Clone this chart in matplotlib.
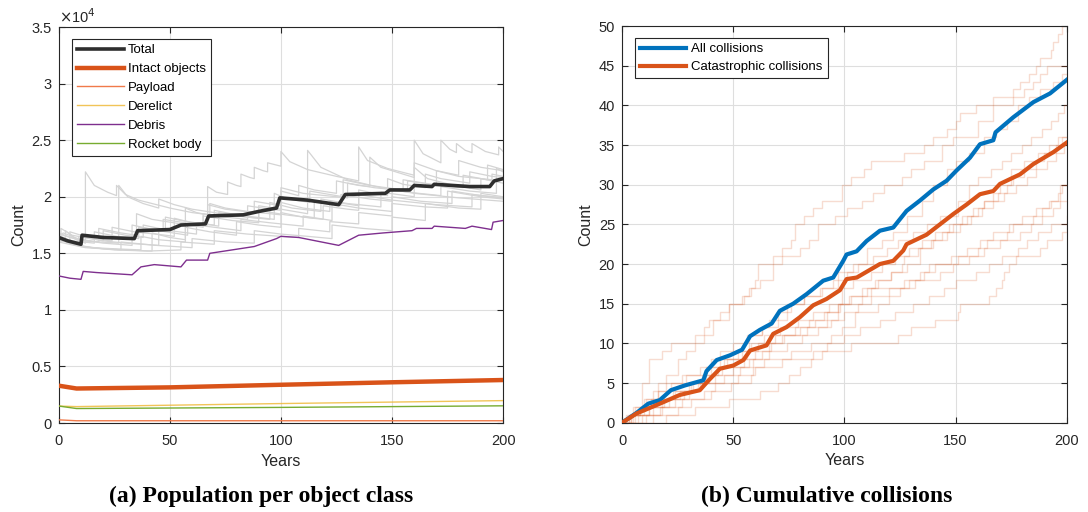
import matplotlib
matplotlib.use("Agg")
import matplotlib.pyplot as plt
import numpy as np

plt.rcParams['font.family'] = ['Liberation Sans', 'DejaVu Sans']

# ---------------- (a) population per object class (values in thousands) ----------------
years_total = [0, 4, 10, 10.5, 20, 34, 35.5, 50, 55, 66, 67.5, 83, 90, 98, 99.5, 112, 126, 129,
               147, 149, 158, 160, 168, 169, 185, 194, 196, 200]
total = [16.4, 16.1, 15.8, 16.6, 16.4, 16.3, 17.0, 17.1, 17.5, 17.6, 18.3, 18.4, 18.7, 19.0, 19.9,
         19.7, 19.3, 20.2, 20.3, 20.6, 20.6, 21.0, 20.9, 21.1, 20.9, 20.9, 21.4, 21.6]

years_debris = [0, 5, 10, 11, 17, 33, 37, 43, 55, 57.5, 67, 68, 78, 88, 98, 100, 108, 126, 135,
                146, 159, 161, 168, 169, 183, 186, 194.8, 195.5, 200]
debris = [13.0, 12.8, 12.7, 13.4, 13.3, 13.1, 13.8, 14.0, 13.8, 14.4, 14.4, 15.0, 15.3, 15.6, 16.3,
          16.5, 16.4, 15.7, 16.6, 16.8, 17.0, 17.2, 17.2, 17.4, 17.2, 17.4, 17.1, 17.75, 17.9]

years_intact = [0, 8, 50, 100, 150, 200]
intact = [3.3, 3.05, 3.15, 3.38, 3.6, 3.8]
years_derelict = [0, 8, 100, 200]
derelict = [1.5, 1.45, 1.72, 1.98]
years_rocket = [0, 8, 100, 200]
rocket = [1.5, 1.28, 1.38, 1.52]
years_payload = [0, 8, 200]
payload = [0.28, 0.2, 0.2]

# individual Monte Carlo runs of the total population: (year, thousands) breakpoints
run_g1 = [(0,16.6),(3,16.3),(3,17.0),(8,16.2),(12,15.9),(12,22.2),(16,21.0),(22,20.4),(26,20.1),(26,21.0),(30,20.2),(36,19.7),(42,19.4),(50,19.0),(60,18.6),(68,18.4),(68,19.4),(75,19.0),(85,18.7),(100,18.4),(100,19.5),(110,19.0),(122,18.7),(122,19.6),(135,19.2),(135,20.2),(150,19.7),(170,19.3),(186,19.1),(186,20.2),(200,19.9)]
run_g2 = [(0,16.3),(6,15.8),(15,15.5),(25,15.4),(37,15.3),(37,16.5),(45,16.2),(57,16.0),(57,19.0),(62,18.6),(67,18.4),(67,20.9),(71,20.4),(76,20.2),(76,21.3),(80,21.0),(82,20.9),(82,22.0),(86,21.7),(88,21.6),(88,22.6),(92,22.3),(94,22.2),(94,23.0),(98,22.8),(100,22.7),(100,24.0),(104,23.1),(112,22.4),(125,21.8),(135,21.4),(135,24.4),(139,23.2),(148,22.5),(160,21.9),(160,25.0),(164,23.8),(172,23.0),(172,25.0),(176,24.2),(179,23.9),(179,24.7),(183,24.1),(186,23.9),(186,24.7),(192,24.0),(198,23.7),(198,24.4),(200,24.0)]
run_g3 = [(0,16.8),(4,16.5),(10,16.1),(27,15.9),(27,21.0),(31,20.0),(38,19.4),(45,19.0),(45,19.8),(52,19.3),(60,18.9),(70,18.6),(80,18.3),(90,18.1),(90,19.2),(100,18.9),(112,18.5),(112,24.1),(118,22.6),(130,21.5),(145,20.8),(160,20.3),(180,19.9),(200,19.6)]
run_g4 = [(0,16.2),(8,15.7),(20,15.4),(30,15.3),(42,15.2),(42,16.8),(50,16.4),(57,16.2),(57,17.3),(68,16.9),(80,16.6),(80,17.8),(90,17.5),(100,17.3),(100,18.6),(110,18.2),(119,18.0),(119,19.2),(130,18.9),(135,18.8),(135,20.6),(145,20.2),(148,20.1),(148,21.6),(155,21.1),(165,20.8),(165,22.0),(172,21.6),(185,21.2),(185,22.2),(195,21.8),(200,21.7)]
run_g5 = [(0,16.5),(2,16.8),(10,16.2),(20,15.9),(33,15.7),(33,17.5),(40,17.2),(48,17.0),(48,18.2),(55,17.9),(65,17.6),(65,18.5),(75,18.2),(85,18.0),(85,19.2),(95,18.9),(100,18.8),(100,20.5),(108,20.1),(108,21.0),(115,20.6),(125,20.3),(125,21.4),(135,21.0),(140,20.9),(140,23.5),(145,22.6),(155,22.0),(160,21.7),(160,23.0),(170,22.3),(180,21.9),(180,23.2),(190,22.6),(200,22.3)]
run_g6 = [(0,16.4),(10,15.6),(25,15.3),(40,15.2),(55,15.3),(55,16.0),(70,15.8),(70,17.0),(85,16.7),(100,16.5),(108,16.4),(108,17.2),(122,16.9),(122,17.8),(135,17.6),(135,18.6),(150,18.3),(150,19.4),(165,19.1),(175,19.0),(175,20.5),(190,20.0),(200,19.8)]
run_g7 = [(0,16.1),(5,16.0),(5,16.9),(15,16.3),(20,16.1),(20,17.0),(30,16.6),(38,16.4),(38,17.5),(50,17.0),(62,16.7),(62,17.7),(72,17.4),(72,18.6),(85,18.2),(95,18.0),(95,19.5),(105,19.0),(118,18.7),(118,19.8),(130,19.4),(145,19.1),(145,20.4),(160,20.0),(160,22.6),(166,21.6),(178,21.0),(190,20.6),(190,21.6),(200,21.2)]
run_g8 = [(0,16.7),(7,16.3),(18,16.0),(18,17.2),(28,16.8),(35,16.6),(35,18.5),(42,18.0),(55,17.6),(65,17.3),(65,18.3),(78,17.9),(90,17.7),(90,18.8),(102,18.4),(115,18.1),(115,19.6),(127,19.2),(127,20.2),(140,19.8),(150,19.6),(150,20.6),(162,20.3),(172,20.1),(172,20.9),(185,20.5),(197,20.3),(197,22.5),(200,22.2)]
run_g9 = [(0,16.3),(9,15.8),(9,16.5),(20,16.1),(30,15.9),(45,15.7),(45,17.0),(58,16.6),(58,17.6),(70,17.3),(82,17.0),(82,18.0),(95,17.7),(110,17.4),(110,18.3),(123,17.9),(123,19.4),(135,19.0),(150,18.7),(150,20.0),(163,19.6),(177,19.4),(177,20.5),(190,20.1),(200,19.9)]
run_g10 = [(0,16.6),(1,16.5),(1,17.2),(6,16.6),(14,16.3),(24,16.1),(24,17.3),(34,16.9),(48,16.6),(52,16.5),(52,18.1),(60,17.7),(70,17.5),(70,18.8),(80,18.4),(97,18.0),(97,20.3),(103,19.8),(113,19.5),(113,20.5),(128,20.0),(128,21.5),(140,21.0),(155,20.6),(155,21.5),(168,21.1),(182,20.8),(182,21.9),(193,21.5),(193,22.8),(200,22.4)]
run_g11 = [(0,16.0),(12,15.5),(28,15.3),(28,16.0),(44,15.7),(60,15.5),(60,16.3),(75,16.0),(88,15.9),(88,17.0),(100,16.7),(112,16.5),(123,16.3),(123,17.5),(137,17.2),(150,17.0),(150,18.2),(165,17.9),(165,19.4),(180,19.0),(190,18.9),(190,20.3),(200,20.0)]
run_g12 = [(0,16.5),(6,16.1),(16,15.9),(16,16.9),(26,16.5),(36,16.3),(36,17.3),(47,17.0),(47,18.0),(60,17.6),(67,17.5),(67,19.3),(75,18.9),(88,18.6),(88,19.6),(100,19.2),(100,20.8),(110,20.3),(120,20.1),(130,19.9),(130,21.2),(142,20.8),(157,20.5),(157,21.4),(170,21.0),(170,22.3),(180,21.8),(195,21.5),(195,22.0),(200,21.8)]
gray_runs = [run_g1, run_g2, run_g3, run_g4, run_g5, run_g6, run_g7, run_g8, run_g9, run_g10, run_g11, run_g12]

# ---------------- (b) cumulative collisions ----------------
years_all = [0, 6.6, 11.8, 17, 22, 28.3, 36.6, 38, 42.6, 48.6, 54, 57.6, 62, 67.3, 71, 77, 83, 90.5, 95,
             99.5, 101, 105.5, 110, 116, 122, 128, 134, 140, 146, 150.5, 156.5, 161, 167, 168, 176, 185,
             192.5, 200]
all_coll = [0, 1.25, 2.4, 2.85, 4.1, 4.7, 5.35, 6.5, 7.9, 8.5, 9.2, 10.9, 11.7, 12.5, 14.1, 15, 16.2, 17.9,
            18.3, 20.4, 21.2, 21.6, 22.9, 24.2, 24.6, 26.7, 28, 29.4, 30.5, 31.8, 33.4, 35.1, 35.6, 36.6,
            38.5, 40.4, 41.5, 43.2]
years_cat = [0, 6.6, 17, 26, 35, 39, 44, 50, 54.6, 57.6, 65, 68, 74, 80, 86, 92, 98, 101, 105.6, 116, 122,
             126.5, 128, 137, 143, 149, 155, 161, 167, 170, 179, 185, 194, 200]
cat_coll = [0, 1.17, 2.4, 3.5, 4.1, 5.35, 6.8, 7.2, 7.9, 9.1, 9.75, 11.2, 12.05, 13.3, 14.8, 15.6, 16.7,
            18.1, 18.3, 20, 20.4, 21.7, 22.5, 23.7, 25, 26.3, 27.5, 28.8, 29.2, 30.1, 31.3, 32.6, 34.1, 35.3]

# individual runs: (year, cumulative catastrophic collisions) step corners
run_a = [(0,0),(3,1),(6,2),(9,5),(12,8),(18,9),(22,10),(33,11),(37,12),(39,13),(44,14),(48,15),(54,16),(57,17),(60,18),(61,20),(68,21),(72,22),(76,23),(78,25),(82,26),(86,27),(90,28),(99,30),(103,31),(109,32),(112,33),(127,34),(136,35),(140,36),(146,37),(150,38),(152,39),(159,40),(167,41),(176,42),(179,43),(183,44),(186,45),(188,46),(193,47),(194,48),(196,49),(198,50),(200,50)]
run_b = [(0,0),(4,1),(8,2),(11,3),(16,4),(20,6),(25,8),(29,9),(33,10),(37,11),(41,13),(48,15),(55,16),(58,17),(62,18),(68,20),(72,21),(80,22),(84,23),(88,25),(96,26),(101,27),(108,28),(113,29),(118,30),(126,31),(130,32),(136,33),(144,35),(149,36),(160,38),(167,40),(176,41),(181,42),(185,43),(188,44),(191,45),(200,45)]
run_c = [(0,0),(6,1),(12,2),(18,3),(24,4),(30,5),(36,6),(40,7),(46,8),(52,9),(57,11),(63,12),(66,13),(70,14),(76,15),(82,16),(90,17),(97,19),(104,20),(110,22),(117,23),(122,24),(128,26),(135,28),(140,30),(146,32),(150,33),(156,34),(163,36),(168,37),(173,38),(178,40),(183,41),(188,42),(194,43),(198,44),(200,44)]
run_d = [(0,0),(2,1),(5,2),(10,3),(14,4),(22,5),(27,6),(35,7),(40,8),(44,9),(50,10),(56,11),(63,12),(70,13),(74,15),(82,16),(89,17),(95,18),(101,19),(106,20),(113,21),(119,22),(124,23),(131,24),(137,25),(143,26),(151,28),(156,30),(160,31),(166,32),(171,33),(175,34),(180,35),(184,36),(189,37),(193,38),(196,39),(199,40),(200,40)]
run_e = [(0,0),(7,1),(10,2),(15,3),(23,4),(32,5),(38,6),(43,7),(47,8),(54,9),(58,10),(64,11),(71,12),(79,13),(86,14),(93,15),(99,17),(104,18),(112,19),(117,20),(123,21),(129,22),(135,23),(141,24),(147,25),(153,26),(158,27),(163,28),(169,29),(173,30),(176,31),(181,32),(186,33),(190,34),(195,35),(198,36),(200,36)]
run_f = [(0,0),(9,1),(14,2),(19,3),(26,4),(31,5),(39,6),(45,7),(55,8),(60,9),(66,10),(72,11),(78,12),(84,13),(92,14),(97,15),(103,16),(108,17),(115,18),(121,19),(126,20),(127,21),(133,22),(139,23),(144,24),(149,25),(155,26),(160,27),(163,28),(167,29),(170,30),(175,32),(181,33),(187,34),(192,35),(196,36),(200,36)]
run_g = [(0,0),(5,1),(12,2),(21,3),(28,4),(34,5),(42,6),(50,7),(57,8),(63,9),(67,10),(73,11),(80,12),(87,13),(91,14),(98,15),(102,16),(110,17),(114,18),(121,19),(128,20),(134,22),(140,23),(146,24),(152,25),(157,26),(162,27),(167,28),(172,29),(177,30),(182,31),(186,32),(191,33),(195,34),(199,35),(200,35)]
run_h = [(0,0),(11,1),(17,2),(24,3),(30,4),(35,5),(46,6),(53,7),(59,8),(66,9),(74,10),(81,11),(88,12),(94,13),(100,14),(106,15),(112,16),(120,17),(127,18),(134,19),(141,20),(148,21),(155,22),(161,23),(167,24),(174,25),(180,26),(186,27),(192,28),(196,29),(198,30),(200,30)]
run_i = [(0,0),(4,1),(8,2),(13,3),(16,5),(29,6),(38,7),(44,8),(56,9),(61,10),(69,11),(83,12),(92,13),(97,15),(108,16),(112,17),(129,18),(136,19),(138,20),(151,21),(160,22),(164,23),(173,24),(176,25),(185,26),(189,27),(193,28),(197,30),(200,30)]
run_j = [(0,0),(14,1),(25,2),(31,3),(37,4),(42,5),(52,6),(59,7),(64,8),(76,9),(85,10),(94,11),(99,12),(105,14),(115,15),(120,16),(125,17),(132,18),(143,19),(149,20),(156,21),(163,22),(170,23),(179,24),(184,25),(189,26),(194,27),(197,28),(200,28)]
run_k = [(0,0),(3,1),(18,2),(27,3),(40,4),(49,5),(58,6),(60,7),(72,8),(86,9),(92,10),(100,11),(107,12),(116,13),(123,14),(131,15),(138,16),(145,17),(150,18),(159,19),(165,20),(171,21),(178,22),(182,23),(187,24),(193,25),(200,26)]
run_l = [(0,0),(20,1),(33,2),(48,3),(62,4),(70,5),(75,6),(80,7),(85,8),(90,9),(103,10),(124,11),(130,12),(141,13),(151,14),(152,15),(165,16),(168,17),(171,18),(172,19),(174,20),(177,21),(188,22),(191,23),(198,24),(200,25)]
step_runs = [run_a, run_b, run_c, run_d, run_e, run_f, run_g, run_h, run_i, run_j, run_k, run_l]

yticks_a = [0, 5, 10, 15, 20, 25, 30, 35]
yticklabels_a = ['0', '0.5', '1', '1.5', '2', '2.5', '3', '3.5']
xticks = [0, 50, 100, 150, 200]
yticks_b = list(range(0, 51, 5))

# ---------------- drawing ----------------
fig = plt.figure(figsize=(10.88, 5.12), dpi=100)
axA = fig.add_axes([0.054, 0.1738, 0.4084, 0.7734])
axB = fig.add_axes([0.5717, 0.1744, 0.4087, 0.7748])

spine_col = '#262626'
grid_col = '#dedede'

def style(ax):
    ax.set_xlim(0, 200)
    ax.set_xticks(xticks)
    ax.grid(True, color=grid_col, lw=0.8)
    ax.set_axisbelow(True)
    for s in ax.spines.values():
        s.set_color(spine_col)
        s.set_linewidth(0.8)
    ax.tick_params(direction='in', top=True, right=True, length=4, width=0.8,
                   color=spine_col, labelsize=10.5, labelcolor='#262626')
    ax.tick_params(axis='x', pad=8)
    ax.tick_params(axis='y', pad=5)
    ax.set_xlabel('Years', fontsize=11.5, color='#262626', labelpad=4)
    ax.set_ylabel('Count', fontsize=11.5, color='#262626', labelpad=4)

# (a)
for run in gray_runs:
    t, v = zip(*run)
    axA.plot(t, v, color='#d4d4d4', lw=0.9, zorder=2)
axA.plot(years_total, total, color='#2e2e2e', lw=2.6, label='Total', zorder=5)
axA.plot(years_intact, intact, color='#D95319', lw=3.2, label='Intact objects', zorder=4)
axA.plot(years_payload, payload, color='#F07A4A', lw=1.0, label='Payload', zorder=4)
axA.plot(years_derelict, derelict, color='#EDB120', lw=1.0, alpha=0.75, label='Derelict', zorder=4)
axA.plot(years_debris, debris, color='#7E2F8E', lw=1.0, label='Debris', zorder=4)
axA.plot(years_rocket, rocket, color='#77AC30', lw=1.0, label='Rocket body', zorder=4)
style(axA)
axA.set_ylim(0, 35)
axA.set_yticks(yticks_a)
axA.set_yticklabels(yticklabels_a)
axA.text(0.0, 1.003, r'$\times$10$^{4}$', transform=axA.transAxes, fontsize=10.5,
         color='#262626', ha='left', va='bottom')
legA = axA.legend(loc='upper left', bbox_to_anchor=(0.030, 0.970), borderaxespad=0,
                  fontsize=9.5, handlelength=3.5, handletextpad=0.35, labelspacing=0.5,
                  borderpad=0.4, fancybox=False, framealpha=1, edgecolor=spine_col)
legA.get_frame().set_linewidth(0.8)

# (b)
for run in step_runs:
    t, c = zip(*run)
    axB.plot(t, c, drawstyle='steps-post', color='#D95319', alpha=0.2, lw=1.0, zorder=2)
axB.plot(years_all, all_coll, color='#0072BD', lw=3.0, label='All collisions', zorder=5)
axB.plot(years_cat, cat_coll, color='#D95319', lw=3.0, label='Catastrophic collisions', zorder=5)
style(axB)
axB.set_ylim(0, 50)
axB.set_yticks(yticks_b)
legB = axB.legend(loc='upper left', bbox_to_anchor=(0.029, 0.970), borderaxespad=0,
                  fontsize=9.5, handlelength=3.5, handletextpad=0.35, labelspacing=0.42,
                  borderpad=0.4, fancybox=False, framealpha=1, edgecolor=spine_col)
legB.get_frame().set_linewidth(0.8)

cap_font = dict(family=['Liberation Serif', 'DejaVu Serif'], fontweight='bold', fontsize=17,
                ha='center', va='center', color='black')
fig.text(0.2403, 0.031, '(a) Population per object class', **cap_font)
fig.text(0.760, 0.031, '(b) Cumulative collisions', **cap_font)

fig.savefig('out.png', dpi=100)
